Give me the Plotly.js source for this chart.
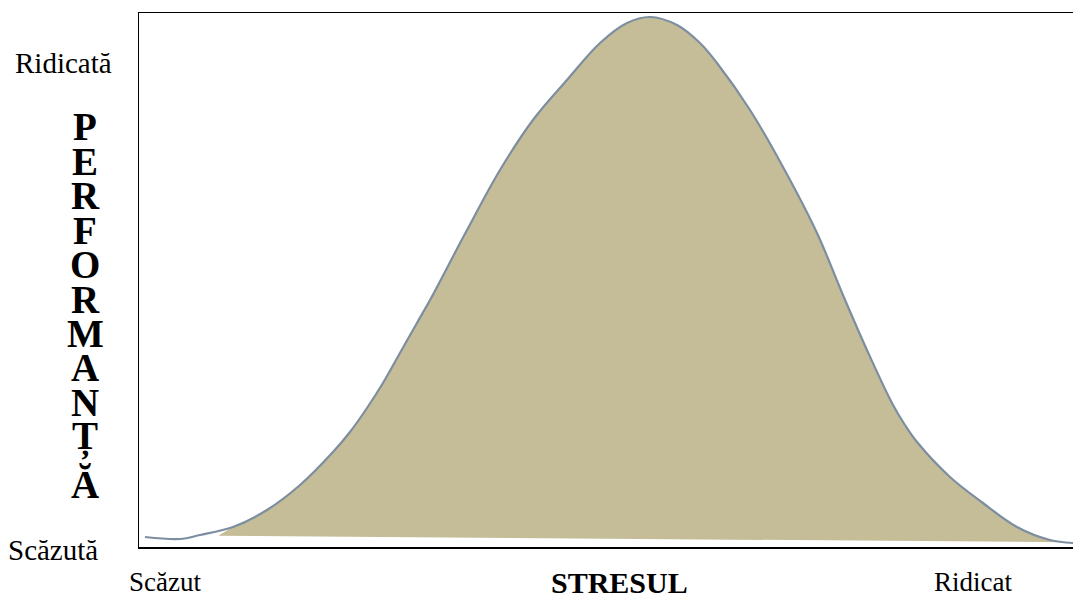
<!DOCTYPE html>
<html>
<head>
<meta charset="utf-8">
<script src="https://cdn.plot.ly/plotly-3.0.1.min.js"></script>
<style>html,body{margin:0;padding:0;background:#fff;}#chart{width:1073px;height:598px;}</style>
</head>
<body>
<div id="chart"></div>
<script>
// Stress level (0 = low, 100 = high) and performance (0 = low, 100 = high)
const stressX = [0.64, 4.39, 6.53, 10.06, 13.70, 17.24, 20.77, 22.59, 24.41, 26.12, 27.94, 29.76, 31.16, 35.12, 38.65, 42.18, 45.82, 49.36, 52.25, 54.71, 57.60, 60.06, 61.88, 65.42, 68.95, 72.59, 75.37, 77.94, 80.73, 82.01, 83.30, 86.83, 90.36, 94.00, 97.54, 100];
const performanceY = [1.87, 1.50, 2.25, 3.75, 6.93, 11.61, 17.79, 21.54, 26.03, 30.71, 36.33, 41.95, 46.25, 59.36, 70.60, 79.96, 87.45, 94.38, 98.13, 99.25, 97.75, 94.38, 90.64, 81.84, 71.16, 58.80, 47.19, 36.89, 26.59, 22.85, 19.66, 13.11, 8.24, 3.75, 1.31, 0.75];
// bottom edge of the shaded area
const baseX = [8.5, 100];
const baseY = [2.1, 0.9];

const yLabels = ["Scăzută", "Ridicată"];
const xLabels = ["Scăzut", "Ridicat"];
const xTitle = "STRESUL";
const yTitleLetters = ["P", "E", "R", "F", "O", "R", "M", "A", "N", "Ț", "Ă"];

// upper edge of the shaded area: curve points right of the baseline start
const fillX = [baseX[0]], fillY = [baseY[0]];
for (let i = 0; i < stressX.length; i++) {
  if (stressX[i] > baseX[0]) { fillX.push(stressX[i]); fillY.push(performanceY[i]); }
}

const traces = [
  {x: baseX, y: baseY, type: 'scatter', mode: 'lines',
   line: {width: 0, color: 'rgba(0,0,0,0)'}, hoverinfo: 'skip', showlegend: false},
  {x: fillX, y: fillY, type: 'scatter', mode: 'lines', fill: 'tonexty',
   fillcolor: '#c4bd98', line: {width: 0, color: 'rgba(0,0,0,0)', shape: 'spline', smoothing: 1}, hoverinfo: 'skip', showlegend: false},
  {x: stressX, y: performanceY, type: 'scatter', mode: 'lines',
   line: {color: '#7d8ea0', width: 2.2, shape: 'spline', smoothing: 1}, hoverinfo: 'skip', showlegend: false}
];

const L = 139, T = 13, W = 934, H = 534;
const px = v => (v - L) / W;
const py = v => (T + H - v) / H;
const serif = 'Liberation Serif';

function label(text, x, y, size) {
  return {text: text, x: px(x), y: py(y), xref: 'paper', yref: 'paper', showarrow: false,
          xanchor: 'center', yanchor: 'middle', font: {family: serif, size: size, color: '#000'}};
}
const ann = [];
ann.push(label(yLabels[1], 63, 63, 29));
ann.push(label(yLabels[0], 53, 550, 29));
ann.push(label(xLabels[0], 165, 582, 27));
ann.push(label(xLabels[1], 973, 582, 27));
ann.push(label('<b>' + xTitle + '</b>', 619, 582, 30));
yTitleLetters.forEach((ch, i) => {
  const cy = i < 10 ? 127 + 34.4 * i : 484;
  ann.push(label('<b>' + ch + '</b>', 85, cy, 39));
});

const layout = {
  width: 1073, height: 598,
  margin: {l: L, r: 0, t: T, b: 598 - T - H, pad: 0},
  paper_bgcolor: '#fff', plot_bgcolor: '#fff',
  showlegend: false,
  xaxis: {range: [0, 100], showgrid: false, zeroline: false, showticklabels: false, ticks: '',
          showline: true, mirror: true, linecolor: '#000', linewidth: 1.5, fixedrange: true},
  yaxis: {range: [0, 100], showgrid: false, zeroline: false, showticklabels: false, ticks: '',
          showline: true, mirror: false, linecolor: '#000', linewidth: 1.5, fixedrange: true},
  annotations: ann
};

Plotly.newPlot('chart', traces, layout, {displayModeBar: false, staticPlot: true});
</script>
</body>
</html>
